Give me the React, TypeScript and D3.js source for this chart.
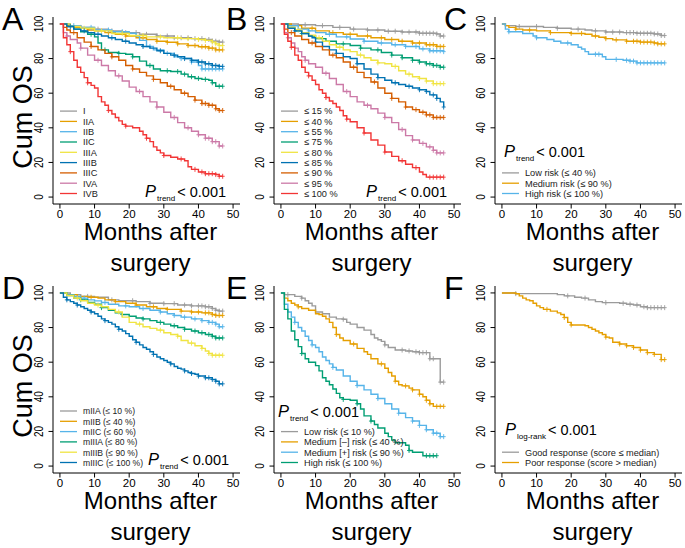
import * as d3 from "d3"

type Pt = [number, number]

const xTicks = [0, 10, 20, 30, 40, 50]
const yTicks = [0, 20, 40, 60, 80, 100]

// A: stage
const stageLabels = ["I", "IIA", "IIB", "IIC", "IIIA", "IIIB", "IIIC", "IVA", "IVB"]
const stageSteps: Pt[][] = [
  [[0,100],[3,99],[6,98],[10,97],[14,96],[18,95],[23,94],[28,93],[33,92],[38,91.5],[42,91],[44,90],[46,89.5],[47,89.5]],
  [[0,100],[2,99],[4,98],[6,97.5],[8,96.5],[10,96],[13,95],[16,94],[19,93],[22,92],[25,91],[28,90],[31,89.4],[34,88.5],[37,87.5],[40,86.8],[43,86],[45,85],[47,85]],
  [[0,100],[3,99],[6,98],[10,96.5],[15,95.5],[20,94.6],[22,93],[23,90.5],[25,87],[27,85],[30,83],[33,81],[35,80],[38,78],[40,76],[41,74],[47,74]],
  [[0,100],[2,98.5],[4,97],[6,95.5],[8,94],[10,92.5],[11,89],[12,85],[14,83.5],[17,83],[19,82.5],[21,81],[23,78.5],[25,76],[27,74],[29,73],[32,72.5],[35,71],[37,69.5],[39,68.5],[41,68],[43,67.5],[44,66],[45,64],[47,64]],
  [[0,100],[3,98.5],[6,97.5],[10,96],[15,94.5],[20,93.3],[25,92.5],[30,92],[35,91.5],[40,91],[42,90.5],[44,89.5],[45,88.5],[46,87.5],[47,87.5]],
  [[0,100],[2,98.5],[4,97],[6,96],[8,95],[10,94],[12,93],[14,92],[16,91],[18,90],[20,89],[22,88],[24,87],[26,86],[28,84.5],[30,83],[32,82],[34,81],[36,80],[38,79],[40,78],[42,77],[44,76],[46,75.5],[47,75.5]],
  [[0,100],[1,98],[2,96.5],[3,95],[5,92],[7,89.5],[9,87],[11,85],[13,83],[15,81],[17,79],[19,76],[21,74],[23,72],[25,70],[27,68],[29,66],[31,64],[33,62],[35,60],[37,58],[39,56],[41,54],[43,53],[45,51],[46,50],[47,50]],
  [[0,100],[1,95],[2,93],[3,91],[5,89],[6,86],[8,82],[10,79],[12,76],[14,73],[16,70],[18,67],[20,63.5],[22,61],[24,58],[26,55],[28,52],[30,49],[32,46],[34,43],[36,40],[38,38],[40,36],[42,34],[44,32],[46,29.5],[47,29.5]],
  [[0,100],[1,92],[2,88],[3,84],[4,79],[5,75],[6,72],[7,69],[8,66],[9,64.5],[10,63],[11,58],[12,55],[13,53],[14,50],[15,48],[16,46],[17,44],[18,42],[19,41],[21,40],[23,38],[24,36],[25,34],[26,32],[27,29],[28,27],[29,25.5],[30,24],[32,23],[34,22],[36,21],[37,17.5],[38,16],[40,14.5],[42,13.5],[45,13],[46,12],[47,12]],
]
const stageCensor: number[][] = [
  [6,11,15,19,22,25,28,31,33,35,37,39,41,43,44,45,46,47],
  [8,14,19,24,28,31,34,37,39,41,42,43,44,45,46,47],
  [4,9,14,18,26,31,35,38,41,42,43,44,45,46,47],
  [9,13,17,21,26,31,34,36,38,40,42,44,46,47],
  [7,12,18,24,29,34,37,40,42,44,45,46,47],
  [3,7,11,15,19,24,29,33,36,38,40,41,42,43,44,45,46,47],
  [4,9,15,21,27,32,36,39,41,42,43,44,45,46,47],
  [2,6,11,17,23,28,33,37,40,42,43,44,45,46,47],
  [3,8,14,19,25,30,35,39,41,42,43,44,45,46,47],
]

// B: percentile groups
const pctLabels = ["≤ 15 %", "≤ 40 %", "≤ 55 %", "≤ 75 %", "≤ 80 %", "≤ 85 %", "≤ 90 %", "≤ 95 %", "≤ 100 %"]
const pctSteps: Pt[][] = [
  [[0,100],[5,99.5],[10,99],[15,98],[20,97],[25,96.5],[30,95.8],[35,95.3],[40,94.6],[45,94.2],[46,93],[47,93]],
  [[0,100],[3,99],[6,97.5],[10,96],[14,95],[18,94],[22,93],[26,92],[30,91],[34,90],[38,89],[42,88],[45,87],[47,87]],
  [[0,100],[2,99],[5,97],[8,96],[10,95],[13,94],[16,92.5],[20,91.3],[24,90],[28,89],[32,88],[36,87],[40,85.6],[43,84.5],[47,84]],
  [[0,100],[2,98],[4,96],[6,94.5],[8,93],[10,91.5],[13,90],[16,88.5],[20,87.5],[23,86],[26,85],[29,83.5],[32,82],[35,80.5],[38,79],[40,78],[42,77],[44,76],[46,75],[47,75]],
  [[0,100],[2,98],[4,96.5],[6,95],[8,93.5],[10,92],[12,90],[14,88],[16,86.5],[18,85],[20,84],[22,82],[24,80.5],[26,79],[28,77.5],[30,77],[32,75.5],[34,73],[36,71],[38,69.5],[40,68.5],[42,67],[44,65.5],[47,65.5]],
  [[0,100],[2,97.5],[4,96],[6,94.5],[8,93],[9,92],[10,89.5],[12,87],[14,85],[16,83],[18,81],[20,80],[22,77],[24,74],[26,71],[28,69],[30,67.5],[32,66],[34,65],[36,64],[38,63],[40,62],[42,61],[43,59],[45,57],[46,55],[47,52]],
  [[0,100],[1,97],[2,95],[4,93],[6,91],[8,89],[10,87],[12,85],[14,82],[16,80.5],[18,78],[20,75],[22,72],[24,69],[26,66.5],[28,63],[30,60],[32,57],[34,55],[36,52],[38,50.5],[40,49],[42,47.5],[44,46],[47,46]],
  [[0,100],[1,95],[2,92],[3,89],[4,86],[5,84],[6,81],[7,79],[8,77],[10,75],[12,71.5],[14,68.5],[16,65],[18,61],[20,58],[22,55],[24,53],[26,51],[28,48.5],[30,46],[32,43],[34,39],[36,35.5],[38,33],[40,31],[42,29],[44,27],[45,25.5],[47,25.5]],
  [[0,100],[1,94],[2,90],[3,86.5],[4,82],[5,79],[6,75],[7,72],[8,70],[9,67.5],[10,65],[11,62],[12,60],[13,57.5],[14,55.5],[15,54],[16,52],[17,50],[18,47],[19,45],[20,43.5],[22,40],[24,37],[26,33],[28,30],[30,26],[32,23.5],[34,21],[36,19],[38,17],[40,14.5],[41,13],[42,11.5],[47,11.5]],
]
const pctCensor: number[][] = [
  [7,12,17,21,25,28,31,33,35,37,39,40,41,42,43,44,45,46,47],
  [9,15,20,25,29,32,35,38,40,42,43,44,45,46,47],
  [8,14,19,24,29,33,36,39,41,43,44,45,46,47],
  [6,12,18,23,28,32,35,38,40,42,43,44,45,46,47],
  [5,11,17,23,28,33,37,40,42,44,45,46,47],
  [4,10,16,22,28,33,37,40,42,44,45,47],
  [3,9,15,21,27,32,36,39,41,42,43,44,45,46,47],
  [2,7,13,19,25,30,35,38,41,43,44,45,46,47],
  [3,8,13,19,24,30,35,39,43,44,45,46,47],
]

// C: risk groups
const riskLabels = ["Low risk (≤ 40 %)", "Medium risk (≤ 90 %)", "High risk (≤ 100 %)"]
const riskSteps: Pt[][] = [
  [[0,100],[1,99],[4,98.5],[12,98],[16,97.5],[20,97],[24,96.5],[26,96],[30,95.3],[35,95],[39,94.6],[44,94.2],[46,93.3],[47,93.3]],
  [[0,100],[1,99],[2,98],[4,97],[6,96.5],[10,96],[14,95],[20,94.5],[24,94],[26,93],[28,92.3],[30,91.5],[32,90.8],[36,90],[40,89.5],[44,89],[45,88.5],[47,88.5]],
  [[0,100],[1,97],[2,95.5],[6,94.5],[9,93],[10,92],[13,91],[15,90],[17,89],[20,88],[22,86.5],[23,85.5],[24,84],[25,82.5],[29,81],[30,79.5],[35,79],[37,78.5],[39,77.5],[47,77.5]],
]
const riskCensor: number[][] = [
  [5,10,16,22,27,30,32,34,36,37,38,39,40,41,42,43,44,45,46,47],
  [4,8,14,20,23,27,30,33,36,38,39,40,41,42,43,44,45,46,47],
  [2,10,19,27,28,33,36,37,38,39,40,41,42,43,44,45,46,47],
]

// D: modified stage
const mStageLabels = ["mIIA (≤ 10 %)", "mIIB (≤ 40 %)", "mIIC (≤ 60 %)", "mIIIA (≤ 80 %)", "mIIIB (≤ 90 %)", "mIIIC (≤ 100 %)"]
const mStageSteps: Pt[][] = [
  [[0,100],[3,99],[6,98],[10,97.5],[14,96],[17,95.5],[22,95],[26,94],[30,93.8],[34,93],[38,92.5],[42,92],[44,91],[45,90],[46,89.5],[47,89.5]],
  [[0,100],[2,99],[5,98],[8,97.5],[11,97],[13,96],[16,95],[19,94],[22,93],[25,92],[28,91],[31,90.5],[35,89.5],[38,89],[41,88.5],[44,87.5],[45,87],[47,87]],
  [[0,100],[2,99],[4,98],[6,97],[8,96],[10,95.4],[12,94.5],[14,93.5],[17,92.5],[20,92],[23,91],[26,90],[29,89],[31,88],[33,87],[35,86],[38,85],[41,84],[43,83],[45,82],[46,80.5],[47,80.5]],
  [[0,100],[2,98.5],[4,97],[6,96],[8,94.5],[10,93.5],[12,91.5],[14,90],[16,88.5],[18,87.5],[20,86.5],[22,85.5],[24,85],[26,84],[28,83],[30,82],[32,81],[34,80],[36,79],[38,78],[40,77],[42,76],[44,75],[45,74],[47,74]],
  [[0,100],[2,98.5],[4,97],[6,95.5],[8,94],[10,93],[12,92],[14,90.5],[16,89],[18,86],[20,83],[22,82],[24,80.5],[26,79.5],[28,78.5],[30,77],[32,76],[34,75],[35,72.5],[37,71],[39,69.5],[41,68],[42,66.5],[43,65],[44,64],[47,64]],
  [[0,100],[1,97.5],[2,96],[3,95],[4,94],[5,93],[6,92],[7,91],[8,90],[9,89],[10,88],[11,86.5],[12,85],[13,84],[14,83],[15,82],[16,80.5],[17,79],[18,78],[19,76.5],[20,75],[21,73],[22,71.5],[23,70],[24,68.5],[25,67.5],[26,66],[27,64.5],[28,63],[29,62],[30,61],[31,60],[32,59],[33,57.5],[34,56.5],[35,56],[36,55],[37,54],[38,53.5],[39,53],[40,52],[42,51],[44,50],[45,49],[46,47.5],[47,47.5]],
]
const mStageCensor: number[][] = [
  [8,15,21,26,30,33,36,38,40,41,42,43,44,45,46,47],
  [9,16,22,27,31,35,38,40,42,43,44,45,46,47],
  [7,13,19,24,29,33,36,39,41,43,44,45,46,47],
  [6,12,18,24,29,33,36,39,41,43,44,45,46,47],
  [5,11,17,23,29,34,38,41,43,44,45,46,47],
  [2,5,9,13,17,22,27,32,36,38,40,42,43,44,45,46,47],
]

// E: combined risk
const comboLabels = ["Low risk (≤ 10 %)", "Medium [–] risk (≤ 40 %)", "Medium [+] risk (≤ 90 %)", "High risk (≤ 100 %)"]
const comboSteps: Pt[][] = [
  [[0,100],[1,99],[4,98],[6,97],[7,95.5],[8,94],[9,92.5],[10,89],[12,88],[14,86],[16,85],[18,84.8],[19,83],[20,82],[22,80],[24,78.5],[26,76],[27,74],[28,73],[29,72],[30,70],[31,68.5],[33,67],[36,66.5],[38,66],[40,65.5],[42,65.5],[43,62],[45,62],[46,48.5],[47,48.5]],
  [[0,100],[1,97],[2,95.5],[3,94],[4,93],[5,92],[6,91],[8,90],[10,88],[11,87.5],[12,86.5],[13,85],[14,83],[15,80],[16,76],[17,74],[18,72.5],[20,70.5],[22,68],[24,66],[25,64.5],[26,62],[28,59],[30,56.5],[31,54],[32,52],[33,49],[34,47],[35,46.3],[37,45],[38,44],[40,41.5],[41,40],[42,38],[43,36],[44,34.5],[47,34.5]],
  [[0,100],[1,93.5],[2,89],[3,86],[4,83],[5,80],[6,78],[7,75],[8,72.5],[9,70],[10,68.5],[11,66],[12,63],[13,61],[14,59],[15,57],[16,55.5],[18,52],[20,49],[22,46.5],[24,44],[26,41.5],[28,39],[30,36],[32,33],[34,30.5],[36,28],[38,26],[40,23.5],[42,21],[44,19],[46,17],[47,17]],
  [[0,100],[1,90.5],[2,85],[3,78],[4,73],[5,69],[6,65],[7,62],[8,60],[10,58],[11,55],[12,51],[13,49],[14,47],[15,44.5],[16,42],[17,39.5],[18,38.5],[20,38],[22,36],[23,33],[24,29],[26,26],[27,24],[28,22],[30,19],[31,17],[32,15],[33,13.5],[36,12],[37,9],[38,8],[41,6],[45,6]],
]
const comboCensor: number[][] = [
  [2,6,18,30,35,37,39,40,41,42,43,44,46,47],
  [5,16,21,29,33,36,38,40,42,43,45,46,47],
  [4,9,15,22,28,34,38,40,42,44,45,46,47],
  [6,18,22,26,37,42,43,44,45],
]

// F: response
const respLabels = ["Good response (score ≤ median)", "Poor response (score > median)"]
const respSteps: Pt[][] = [
  [[0,100],[4,99.6],[15,99.6],[16,99],[18,98.3],[21,97.5],[23,97],[25,96],[27,95],[29,94.4],[34,94],[36,93.5],[38,93],[40,92],[42,91.5],[47,91.5]],
  [[0,100],[4,99.5],[5,98.3],[6,97],[7,96],[8,95.5],[9,94],[10,92.5],[11,91.5],[12,90.5],[14,89.5],[16,88.5],[17,87.5],[18,85.8],[19,83],[20,81.5],[24,81],[25,80],[26,79],[27,78],[28,77],[29,76],[30,74.5],[31,74],[32,71.5],[34,70.5],[36,69.5],[38,68.5],[40,67],[42,65.5],[44,64.5],[45,64.5],[46,61.5],[47,61.5]],
]
const respCensor: number[][] = [
  [4,19,24,30,35,37,39,41,42,43,44,45,46,47],
  [13,18,20,30,34,36,38,40,42,44,46,47],
]

const GRAY = "#9b9b9b"
const ORANGE = "#E69F00"
const SKY = "#56B4E9"
const GREEN = "#009E73"
const YELLOW = "#F0E442"
const BLUE = "#0072B2"
const VERMIL = "#D55E00"
const PINK = "#CC79A7"
const RED = "#F23535"
const FONT = "'Liberation Sans', Arial, Helvetica, sans-serif"

const survAt = (s: Pt[], t: number) => {
  let v = s[0][1]
  for (const p of s) if (p[0] <= t) v = p[1]
  return v
}

interface PanelProps {
  col: number
  row: number
  letter: string
  labels: string[]
  steps: Pt[][]
  censor: number[][]
  colors: string[]
  yTitle?: boolean
  pSub: string
  pX: number
  pY: number
  legendSize?: number
}

const Panel = ({ col, row, letter, labels, steps, censor, colors, yTitle, pSub, pX, pY, legendSize = 9.2 }: PanelProps) => {
  const ox = col * 221
  const oy = row * 269
  const x = d3.scaleLinear().domain([-2, 52]).range([53, 240])
  const y = d3.scaleLinear().domain([-4, 104]).range([204, 17])
  const line = d3
    .line<Pt>()
    .x((d) => x(d[0]))
    .y((d) => y(d[1]))
    .curve(d3.curveStepAfter)
  const n = labels.length

  return (
    <g transform={`translate(${ox},${oy})`} fontFamily={FONT}>
      <text x={col === 1 ? 5 : 2} y={30} fontSize={32}>{letter}</text>
      {yTitle && (
        <text transform="translate(32,117) rotate(-90)" textAnchor="middle" fontSize={27}>
          Cum OS
        </text>
      )}

      {/* axes */}
      <line x1={53} x2={53} y1={17} y2={204} stroke="#000" strokeWidth={1} />
      <line x1={53} x2={240} y1={204} y2={204} stroke="#000" strokeWidth={1} />
      {yTicks.map((t) => (
        <g key={`y${t}`}>
          <line x1={48.5} x2={53} y1={y(t)} y2={y(t)} stroke="#000" />
          <text
            transform={`translate(42.5,${y(t)}) rotate(-90) scale(1,1.3)`}
            textAnchor="middle"
            fontSize={10}
          >
            {t}
          </text>
        </g>
      ))}
      {xTicks.map((t) => (
        <g key={`x${t}`}>
          <line x1={x(t)} x2={x(t)} y1={204} y2={208.5} stroke="#000" />
          <text x={x(t)} y={217.5} textAnchor="middle" fontSize={11.5}>
            {t}
          </text>
        </g>
      ))}
      <text x={150.5} y={240} textAnchor="middle" fontSize={24}>Months after</text>
      <text x={150.5} y={271} textAnchor="middle" fontSize={24}>surgery</text>

      {/* curves */}
      {steps.map((s, i) => (
        <g key={`c${i}`}>
          <path d={line(s) ?? ""} fill="none" stroke={colors[i]} strokeWidth={1.4} />
          {censor[i].map((t, j) => {
            const cx = x(t)
            const cy = y(survAt(s, t))
            return (
              <path
                key={j}
                d={`M${cx - 2},${cy}H${cx + 2}M${cx},${cy - 2.5}V${cy + 2.5}`}
                stroke={colors[i]}
                strokeWidth={0.9}
              />
            )
          })}
        </g>
      ))}

      {/* legend */}
      {labels.map((lab, i) => {
        const ly = 193.5 - (n - 1 - i) * 10.3
        return (
          <g key={`l${i}`}>
            <line x1={60} x2={77} y1={ly} y2={ly} stroke={colors[i]} strokeWidth={1.3} />
            <text x={83} y={ly + 3.3} fontSize={legendSize} fill="#222">
              {lab}
            </text>
          </g>
        )
      })}

      <text x={pX} y={pY}>
        <tspan fontStyle="italic" fontSize={16.5}>P</tspan>
        <tspan fontSize={8} dy={4} dx={1}>{pSub}</tspan>
        <tspan fontSize={14.5} dy={-4} dx={2}>{"< 0.001"}</tspan>
      </text>
    </g>
  )
}

export default function App() {
  const c9 = [GRAY, ORANGE, SKY, GREEN, YELLOW, BLUE, VERMIL, PINK, RED]
  return (
    <svg
      width={685}
      height={548}
      style={{ position: "absolute", left: 0, top: 0, background: "#fff" }}
    >
      <rect width={685} height={548} fill="#fff" />
      <Panel col={0} row={0} letter="A" labels={stageLabels} steps={stageSteps} censor={stageCensor}
        colors={c9} yTitle pSub="trend" pX={145} pY={197} />
      <Panel col={1} row={0} letter="B" labels={pctLabels} steps={pctSteps} censor={pctCensor}
        colors={c9} pSub="trend" pX={145} pY={197} />
      <Panel col={2} row={0} letter="C" labels={riskLabels} steps={riskSteps} censor={riskCensor}
        colors={[GRAY, ORANGE, SKY]} pSub="trend" pX={62} pY={157} />
      <Panel col={0} row={1} letter="D" labels={mStageLabels} steps={mStageSteps} censor={mStageCensor}
        colors={[GRAY, ORANGE, SKY, GREEN, YELLOW, BLUE]} yTitle pSub="trend" pX={148} pY={196}
        legendSize={8.6} />
      <Panel col={1} row={1} letter="E" labels={comboLabels} steps={comboSteps} censor={comboCensor}
        colors={[GRAY, ORANGE, SKY, GREEN]} pSub="trend" pX={57} pY={148} />
      <Panel col={2} row={1} letter="F" labels={respLabels} steps={respSteps} censor={respCensor}
        colors={[GRAY, ORANGE]} pSub="log-rank" pX={63} pY={166} />
    </svg>
  )
}
